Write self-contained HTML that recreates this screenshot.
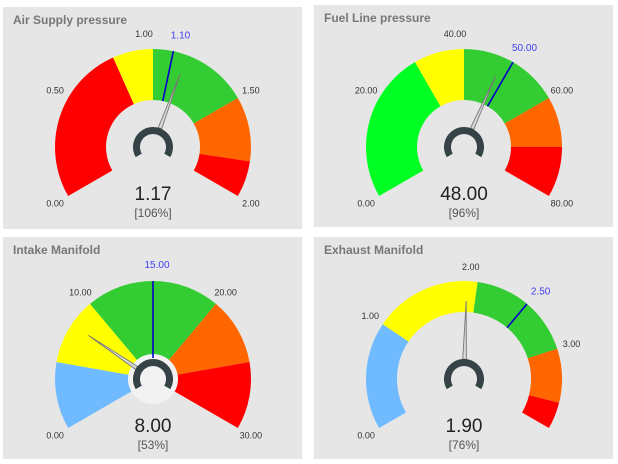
<!DOCTYPE html>
<html><head><meta charset="utf-8"><style>
body{margin:0;background:#fff;width:618px;height:464px;overflow:hidden;font-family:"Liberation Sans",sans-serif}
svg{display:block}
</style></head><body>
<svg id="s" width="618" height="464"></svg>
<script>
const titles=["Air Supply pressure","Fuel Line pressure","Intake Manifold","Exhaust Manifold"];
const mins=[0,0,0,0];
const maxs=[2,80,30,3.75];
const values=[1.17,48,8,1.9];
const targets=[1.10,50,15,2.5];
const ticks=[[0,0.5,1,1.5,2],[0,20,40,60,80],[0,10,20,30],[0,1,2,3]];
const bandStops=[[0,0.8,1.0,1.5,1.82,2],[0,30,40,60,70,80],[0,5,10,20,25,30],[0,1,2,3,3.5,3.75]];
const bandColors=[["#ff0000","#ffff00","#33cc33","#ff6600","#ff0000"],["#00ff22","#ffff00","#33cc33","#ff6600","#ff0000"],["#70bbff","#ffff00","#33cc33","#ff6600","#ff0000"],["#70bbff","#ffff00","#33cc33","#ff6600","#ff0000"]];
const innerR=[47,47,25,67];
const panels=[[3,7],[314,5],[3,237],[314,237]];
const centers=[[153,147],[464,147],[153,379],[464,379]];
const NS="http://www.w3.org/2000/svg";
const svg=document.getElementById('s');
function mk(t,a,p){const e=document.createElementNS(NS,t);for(const k in a)e.setAttribute(k,a[k]);(p||svg).appendChild(e);return e;}
function ang(i,v){return (-120+240*(v-mins[i])/(maxs[i]-mins[i]))*Math.PI/180;}
function pt(c,r,a){return [c[0]+r*Math.sin(a),c[1]-r*Math.cos(a)];}
function sector(c,r0,r1,a0,a1){const p1=pt(c,r1,a0),p2=pt(c,r1,a1),p3=pt(c,r0,a1),p4=pt(c,r0,a0);const l=(a1-a0)>Math.PI?1:0;
return `M${p1} A${r1},${r1} 0 ${l} 1 ${p2} L${p3} A${r0},${r0} 0 ${l} 0 ${p4}Z`;}
const fmt=v=>v.toFixed(2);
const R=98;
for(let i=0;i<4;i++){
  const g=mk('g',{});
  
  
  const pn=mk('rect',{x:panels[i][0],y:panels[i][1],width:299,height:222,fill:'#e6e6e6'},g);
  
  
  const tt=mk('text',{x:panels[i][0]+10,y:panels[i][1]+17,'font-size':12,'font-weight':'bold',fill:'#777'},g);
  tt.textContent=titles[i];
  
  
  const c=centers[i];
  if(i===2){mk('circle',{cx:c[0],cy:c[1],r:innerR[i],fill:'#f2f2f2'},g);}
  const st=bandStops[i];
  for(let b=0;b<st.length-1;b++){
    const p=mk('path',{d:sector(c,innerR[i],R,ang(i,st[b]),ang(i,st[b+1])),fill:bandColors[i][b]},g);
    
    
  }
  ticks[i].forEach(v=>{
    const a=ang(i,v);let p=pt(c,113,a);let x=p[0];if(Math.abs(a)<0.26)x-=9;
    const t=mk('text',{x:x,y:p[1]+3,'font-size':9,fill:'#333','text-anchor':'middle'},g);
    t.textContent=fmt(v);
    
    
  });
  const ta=ang(i,targets[i]);
  const q0=pt(c,innerR[i]-(i===2?4:0),ta),q1=pt(c,R,ta);
  const tl=mk('line',{x1:q0[0],y1:q0[1],x2:q1[0],y2:q1[1],stroke:'#0000cc','stroke-width':1.6},g);
  
  
  const tp=pt(c,113,ta);
  const tx=mk('text',{x:tp[0]+4,y:tp[1]+2,'font-size':10,fill:'#4040ee','text-anchor':'middle'},g);
  tx.textContent=fmt(targets[i]);
  
  
  const na=ang(i,values[i]);
  const tip=pt(c,78,na),b1=pt(c,20,na-0.09),b2=pt(c,20,na+0.09);
  const nd=mk('path',{d:`M${b1} L${tip} L${b2}Z`,fill:'#d8d8d8',stroke:'#777','stroke-width':0.9},g);
  
  
  const h0=pt(c,16.5,-2.1),h1=pt(c,16.5,2.1);
  const hub=mk('path',{d:`M${h0} A16.5,16.5 0 1 1 ${h1}`,fill:'none',stroke:'#354346','stroke-width':7},g);
  
  
  const vt=mk('text',{x:c[0],y:c[1]+53,'font-size':19,fill:'#222','text-anchor':'middle'},g);
  vt.textContent=fmt(values[i]);
  
  
  const pc=mk('text',{x:c[0],y:c[1]+70,'font-size':12,fill:'#555','text-anchor':'middle'},g);
  pc.textContent='['+Math.round(values[i]/targets[i]*100)+'%]';
  
  
}
</script>
</body></html>
